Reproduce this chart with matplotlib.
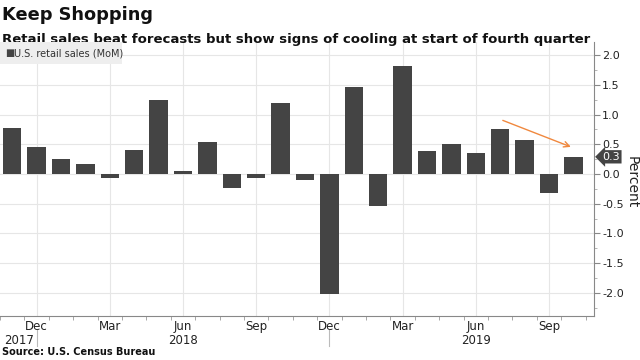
import matplotlib
matplotlib.use("Agg")
import matplotlib.pyplot as plt
import numpy as np

# monthly retail sales change, Nov 2017 .. Oct 2019
months = ["Nov", "Dec", "Jan", "Feb", "Mar", "Apr", "May", "Jun", "Jul", "Aug", "Sep", "Oct",
          "Nov", "Dec", "Jan", "Feb", "Mar", "Apr", "May", "Jun", "Jul", "Aug", "Sep", "Oct"]
values = [0.77, 0.45, 0.26, 0.17, -0.07, 0.41, 1.25, 0.05, 0.54, -0.24, -0.07, 1.20,
          -0.10, -2.02, 1.47, -0.54, 1.82, 0.38, 0.50, 0.36, 0.75, 0.57, -0.32, 0.29]
quarter_labels = ["Dec", "Mar", "Jun", "Sep"]
year_labels = [("2017", 0), ("2018", 7), ("2019", 19)]
last_label = "0.3"

bar_color = "#444444"
grid_color = "#e6e6e6"
arrow_color = "#f0883e"

fig = plt.figure(figsize=(6.4, 3.6), dpi=100)
ax = fig.add_axes([0.0, 0.122, 0.928, 0.761])

x = np.arange(len(values))
ax.bar(x, values, width=0.75, color=bar_color, zorder=3)

ax.set_xlim(-0.41, 23.84)
ax.set_ylim(-2.39, 2.22)

# y axis on the right
ax.yaxis.tick_right()
yt = np.arange(-2.0, 2.01, 0.5)
ax.set_yticks(yt)
ax.set_yticklabels([f"{v:.1f}" for v in yt], fontsize=8, color="#222222")
ax.set_yticks(np.arange(-2.25, 2.2, 0.25), minor=True)
ax.tick_params(axis="y", which="major", length=4, color="#888888", pad=2)
ax.tick_params(axis="y", which="minor", length=2, color="#aaaaaa")
ax.yaxis.set_label_position("right")
ax.set_ylabel("Percent", rotation=270, fontsize=10, color="#222222", va="center")
ax.yaxis.set_label_coords(1.064, 0.489)

# x axis: quarter ticks
qpos = [i for i, m in enumerate(months) if m in quarter_labels]
ax.set_xticks(qpos)
ax.set_xticklabels([months[i] for i in qpos], fontsize=8.5, color="#222222")
ax.set_xticks(np.arange(-0.5, 24.0, 1), minor=True)
ax.tick_params(axis="x", which="major", length=0, pad=3)
ax.tick_params(axis="x", which="minor", length=3, color="#999999")

for label, xi in year_labels:
    ha = "left" if xi == 0 else "center"
    xpos = -0.35 if xi == 0 else xi
    ax.text(xpos, -0.088, label, transform=ax.get_xaxis_transform(), ha=ha, va="center",
            fontsize=8.5, color="#222222")
# year separators under the Dec labels
for xi in [1, 13]:
    ax.plot([xi, xi], [-0.05, -0.11], transform=ax.get_xaxis_transform(),
            color="#bbbbbb", lw=0.8, clip_on=False)

ax.grid(True, which="major", color=grid_color, lw=0.8, zorder=0)
for side in ["top", "left"]:
    ax.spines[side].set_visible(False)
ax.spines["right"].set_color("#888888")
ax.spines["bottom"].set_color("#888888")

# trend arrow
ax.annotate("", xy=(23.0, 0.44), xytext=(20.0, 0.92),
            arrowprops=dict(arrowstyle="->", color=arrow_color, lw=1.0), zorder=4)

# last value tag on the axis
ax.annotate(last_label, xy=(1.0, values[-1]), xycoords=("axes fraction", "data"),
            xytext=(6, 0), textcoords="offset points", ha="left", va="center",
            fontsize=8, color="white",
            bbox=dict(boxstyle="larrow,pad=0.15", fc="#444444", ec="none"))

# legend box
fig.patches.append(plt.Rectangle((0.0, 0.822), 0.19, 0.061, transform=fig.transFigure,
                                 facecolor="#eeeeee", edgecolor="none", zorder=5))
fig.text(0.008, 0.852, "\u25a0", fontsize=7, color=bar_color, va="center", zorder=6)
fig.text(0.022, 0.852, "U.S. retail sales (MoM)", fontsize=7, color="#333333", va="center", zorder=6)

fig.text(0.003, 0.957, "Keep Shopping", fontsize=12.8, fontweight="bold", va="center", color="#111111")
fig.text(0.003, 0.889, "Retail sales beat forecasts but show signs of cooling at start of fourth quarter",
         fontsize=9.5, fontweight="bold", va="center", color="#111111")
fig.text(0.003, 0.022, "Source: U.S. Census Bureau", fontsize=7, fontweight="bold", va="center", color="#111111")

fig.savefig("out.png", dpi=100)
